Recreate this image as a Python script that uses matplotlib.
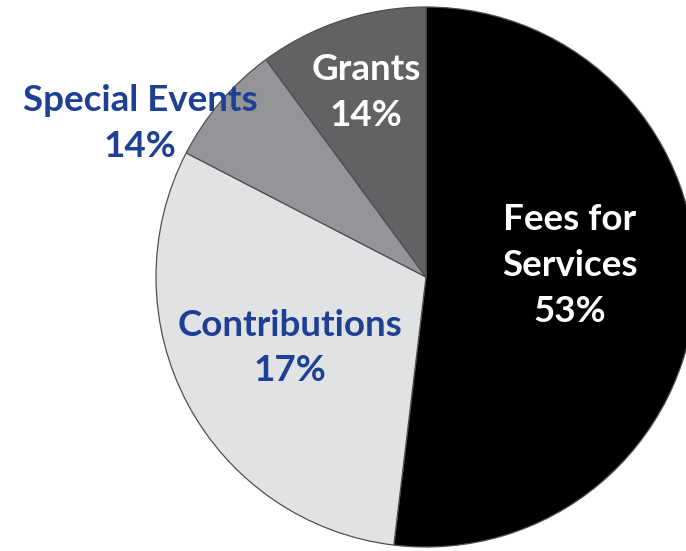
import matplotlib.pyplot as plt

# slice sizes as drawn (the printed labels in the source do not match the geometry)
categories = ["Fees for Services", "Contributions", "Special Events", "Grants"]
sizes = [51.9, 30.7, 7.3, 10.1]
label_texts = ["Fees for\nServices\n53%", "Contributions\n17%", "Special Events\n14%", "Grants\n14%"]

colors = ["#000000", "#e1e2e4", "#949598", "#616264"]
text_colors = ["white", "#1d3f94", "#1d3f94", "white"]
# label block centres, in pie units (radius = 1)
label_pos = [(0.533, 0.041), (-0.504, -0.263), (-1.059, 0.570), (-0.222, 0.685)]

plt.rcParams['font.family'] = ['Lato', 'DejaVu Sans']

fig = plt.figure(figsize=(6.86, 5.51), dpi=100)
ax = fig.add_axes([0, 0, 1, 1])

ax.pie(sizes, colors=colors, startangle=90, counterclock=False, radius=1,
       wedgeprops=dict(edgecolor="#505050", linewidth=0.9))

for txt, pos, c in zip(label_texts, label_pos, text_colors):
    ax.text(pos[0], pos[1], txt, color=c, fontsize=26.5, fontweight='bold',
            ha='center', va='center', linespacing=1.48)

ax.set_xlim(-426 / 270, (686 - 426) / 270)
ax.set_ylim(-(551 - 277) / 270, 277 / 270)
ax.set_aspect('auto')
ax.axis('off')

fig.savefig("out.png", dpi=100)
